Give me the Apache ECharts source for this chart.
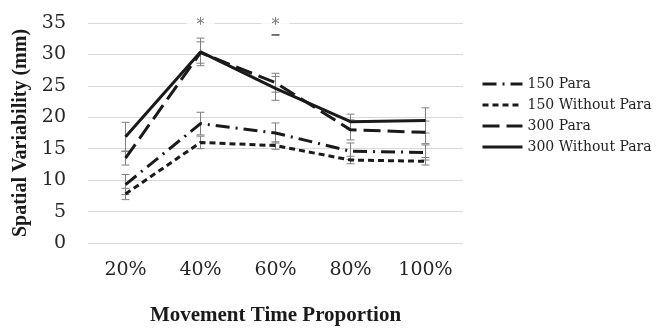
<!DOCTYPE html>
<html>
<head>
<meta charset="utf-8">
<script src="https://cdn.jsdelivr.net/npm/echarts@6/dist/echarts.min.js"></script>
<style>
  html, body { margin: 0; padding: 0; background: #fff; }
  #chart { width: 664px; height: 328px; }
</style>
</head>
<body>
<div id="chart"></div>
<script>
  // data
  var categories = ['20%', '40%', '60%', '80%', '100%'];
  var para150 = [9.3, 19.0, 17.5, 14.6, 14.4];
  var noPara150 = [7.8, 16.0, 15.5, 13.2, 13.0];
  var para300 = [13.5, 30.3, 25.5, 18.0, 17.6];
  var noPara300 = [16.9, 30.4, 24.6, 19.3, 19.5];
  // error bar half-lengths
  var errPara150 = [1.6, 1.8, 1.6, 1.3, 1.2];
  var errNoPara150 = [0.9, 1.0, 0.6, 0.6, 0.6];
  var errPara300 = [1.1, 1.7, 1.5, 1.6, 1.8];
  var errNoPara300 = [2.3, 2.2, 1.9, 1.2, 2.0];
  var yTicks = [0, 5, 10, 15, 20, 25, 30, 35];
  var stars = [['40%', 35, '*'], ['60%', 35, '*']];

  var ink = '#1a1a1a';
  var serif = '"DejaVu Serif", serif';
  var titleFont = '"Liberation Serif", serif';

  function errData(vals, errs) {
    return vals.map(function (v, i) { return [i, v, errs[i]]; });
  }

  function errSeries(vals, errs) {
    return {
      type: 'custom',
      silent: true,
      z: 1,
      data: errData(vals, errs),
      renderItem: function (params, api) {
        var i = api.value(0), v = api.value(1), e = api.value(2);
        var top = api.coord([i, v + e]);
        var bot = api.coord([i, v - e]);
        var w = 4;
        var st = { stroke: '#7f7f7f', lineWidth: 1 };
        return {
          type: 'group',
          children: [
            { type: 'line', shape: { x1: top[0], y1: top[1], x2: bot[0], y2: bot[1] }, style: st },
            { type: 'line', shape: { x1: top[0] - w, y1: top[1], x2: top[0] + w, y2: top[1] }, style: st },
            { type: 'line', shape: { x1: bot[0] - w, y1: bot[1], x2: bot[0] + w, y2: bot[1] }, style: st }
          ]
        };
      }
    };
  }

  function lineSeries(name, vals, type) {
    return {
      name: name,
      type: 'line',
      data: vals,
      symbol: 'none',
      z: 3,
      lineStyle: { color: ink, width: 3, type: type, cap: 'butt' },
      itemStyle: { color: ink }
    };
  }

  var option = {
    animation: false,
    backgroundColor: '#fff',
    grid: { left: 88, right: 201, top: 23, bottom: 85, outerBoundsMode: 'none', containLabel: false },
    legend: {
      orient: 'vertical',
      left: 476,
      top: 72,
      itemWidth: 40,
      itemHeight: 14,
      itemGap: 7,
      itemStyle: { color: 'transparent', borderColor: 'transparent', borderWidth: 0 },
      lineStyle: { width: 3 },
      textStyle: { fontFamily: serif, fontSize: 14, color: '#1f1f1f' },
      data: ['150 Para', '150 Without Para', '300 Para', '300 Without Para']
    },
    xAxis: {
      type: 'category',
      data: categories,
      name: 'Movement Time Proportion',
      nameLocation: 'middle',
      nameGap: 62,
      nameTextStyle: { fontFamily: titleFont, fontSize: 21, fontWeight: 'bold', color: '#1a1a1a' },
      axisLine: { show: false },
      axisTick: { show: false },
      axisLabel: { fontFamily: serif, fontSize: 19, color: '#262626', margin: 18 }
    },
    yAxis: {
      type: 'value',
      min: yTicks[0],
      max: yTicks[yTicks.length - 1],
      interval: 5,
      name: 'Spatial Variability (mm)',
      nameLocation: 'middle',
      nameGap: 54,
      nameTextStyle: { fontFamily: titleFont, fontSize: 20, fontWeight: 'bold', color: '#1a1a1a' },
      axisLine: { show: false },
      axisTick: { show: false },
      axisLabel: { fontFamily: serif, fontSize: 19, color: '#262626', margin: 22 },
      splitLine: { lineStyle: { color: '#d9d9d9', width: 1 } }
    },
    series: [
      errSeries(para150, errPara150),
      errSeries(noPara150, errNoPara150),
      errSeries(para300, errPara300),
      errSeries(noPara300, errNoPara300),
      lineSeries('150 Para', para150, [14, 6, 2, 6]),
      lineSeries('150 Without Para', noPara150, [6, 4]),
      lineSeries('300 Para', para300, [17, 7]),
      lineSeries('300 Without Para', noPara300, 'solid'),
      {
        type: 'scatter',
        silent: true,
        symbolSize: 0,
        z: 5,
        data: stars.map(function (s) { return [s[0], s[1], s[2]]; }),
        label: {
          show: true,
          position: 'inside',
          formatter: function (p) { return p.data[2]; },
          fontFamily: serif,
          fontSize: 16,
          lineHeight: 12,
          color: '#595959',
          backgroundColor: '#fff',
          padding: [0, 10, 0, 10],
          offset: [0, 3]
        }
      },
      {
        type: 'scatter',
        silent: true,
        symbol: 'rect',
        symbolSize: [8, 1.5],
        z: 6,
        itemStyle: { color: ink },
        data: [['60%', 33.1]]
      }
    ]
  };

  var myChart = echarts.init(document.getElementById('chart'));
  myChart.setOption(option);
  window.addEventListener('resize', function () { myChart.resize(); });
</script>
</body>
</html>
